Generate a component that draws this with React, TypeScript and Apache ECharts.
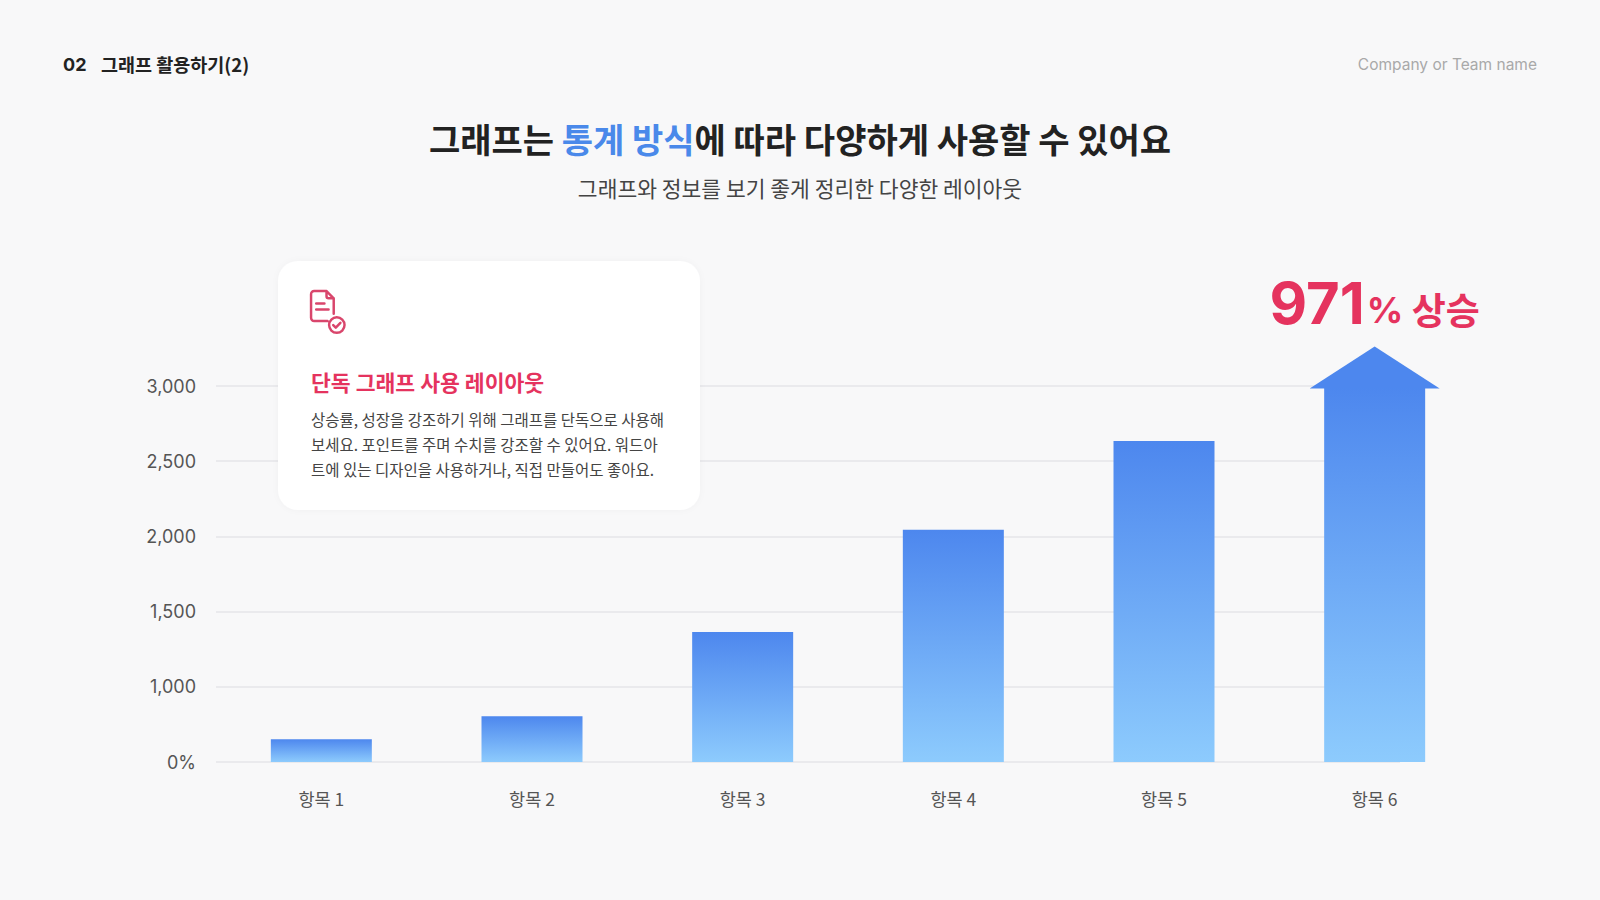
import { useEffect, useRef } from "react";
import * as echarts from "echarts";

// 데이터
const categories = ["항목 1", "항목 2", "항목 3", "항목 4", "항목 5", "항목 6"];
const values = [652, 805, 1365, 2045, 2635, 2990];
const yTickLabels = ["0%", "1,000", "1,500", "2,000", "2,500", "3,000"];
const yMin = 500;
const yMax = 3000;
const yStep = 500;
const highlightIndex = 5;
const growthRate = "971";

const FONT = "Inter, 'Noto Sans CJK KR', sans-serif";
const KR = "'Noto Sans CJK KR', Inter, sans-serif";
const PINK = "#e5335e";
const BLUE_TOP = "#4d87ee";
const BLUE_BOTTOM = "#8dcbfd";

// 문서 + 체크 아이콘
const ICON_D =
  "M18 31 H5 A3 3 0 0 1 2 28 V5 A3 3 0 0 1 5 2 H17 L24 9 V24 " +
  "M17 2 V7 A2 2 0 0 0 19 9 H24 " +
  "M7 14 H15 M7 20 H19 " +
  "M34.5 35 A7.5 7.5 0 1 1 19.5 35 A7.5 7.5 0 1 1 34.5 35 " +
  "M23.5 35 L26 37.5 L30.5 32.8";
echarts.graphic.registerShape("docCheck", echarts.graphic.extendPath(ICON_D, {}));

export default function App() {
  const ref = useRef<HTMLDivElement>(null);

  useEffect(() => {
    if (!ref.current) return;
    const chart = echarts.init(ref.current, undefined, { renderer: "svg" });

    chart.setOption({
      animation: false,
      backgroundColor: "#f8f8f9",
      textStyle: { fontFamily: FONT },
      grid: [
        { left: 216, top: 386, width: 1264, height: 376 },
        { left: 216, top: 386, width: 1184, height: 376 },
      ],
      xAxis: [
        {
          type: "category",
          data: categories,
          gridIndex: 0,
          axisLine: { show: false },
          axisTick: { show: false },
          axisLabel: { margin: 28, fontSize: 17.5, color: "#555", fontFamily: KR },
        },
        { type: "value", gridIndex: 1, min: 0, max: 1, show: false },
      ],
      yAxis: [
        {
          type: "value",
          gridIndex: 0,
          min: yMin,
          max: yMax,
          interval: yStep,
          axisLine: { show: false },
          axisTick: { show: false },
          splitLine: { show: false },
          axisLabel: {
            margin: 20,
            fontSize: 18,
            color: "#555",
            formatter: (v: number) => yTickLabels[Math.round((v - yMin) / yStep)] ?? "",
          },
        },
        {
          type: "value",
          gridIndex: 1,
          min: yMin,
          max: yMax,
          interval: yStep,
          axisLine: { show: false },
          axisTick: { show: false },
          axisLabel: { show: false },
          splitLine: { lineStyle: { color: "#e6e6e8", width: 1.5 } },
        },
      ],
      series: [
        {
          type: "bar",
          data: values,
          barWidth: 101,
          clip: true,
          itemStyle: {
            color: new echarts.graphic.LinearGradient(0, 0, 0, 1, [
              { offset: 0, color: BLUE_TOP },
              { offset: 1, color: BLUE_BOTTOM },
            ]),
          },
        },
        {
          // 마지막 막대 위 화살촉 + 상승률
          type: "custom",
          clip: false,
          z: 3,
          data: [[highlightIndex, values[highlightIndex]]],
          renderItem: (_p: any, api: any) => {
            const pt = api.coord([api.value(0), api.value(1)]);
            return {
              type: "group",
              children: [
                {
                  type: "polygon",
                  shape: {
                    points: [
                      [pt[0] - 65, pt[1] + 1],
                      [pt[0] + 65, pt[1] + 1],
                      [pt[0], pt[1] - 41],
                    ],
                  },
                  style: { fill: BLUE_TOP },
                },
                {
                  type: "text",
                  x: pt[0],
                  y: pt[1] - 56,
                  style: {
                    text: `{n|${growthRate}}{p|%}{s| 상승}`,
                    align: "center",
                    verticalAlign: "bottom",
                    rich: {
                      n: { fontFamily: FONT, fontSize: 58, fontWeight: "bold", fill: PINK, verticalAlign: "bottom", lineHeight: 60 },
                      p: { fontFamily: FONT, fontSize: 36, fontWeight: "bold", fill: PINK, verticalAlign: "bottom", lineHeight: 60, padding: [0, 0, 4, 2] },
                      s: { fontFamily: KR, fontSize: 37, fontWeight: "bold", fill: PINK, verticalAlign: "bottom", lineHeight: 60, padding: [0, 0, 4, 0] },
                    },
                  },
                },
              ],
            };
          },
        },
      ],
      graphic: {
        elements: [
          {
            type: "text",
            x: 63,
            y: 64,
            style: { text: "02", fontFamily: FONT, fontSize: 18, fontWeight: "bold", fill: "#222", verticalAlign: "middle" },
          },
          {
            type: "text",
            x: 101,
            y: 64,
            style: { text: "그래프 활용하기(2)", fontFamily: KR, fontSize: 18.5, fontWeight: "bold", fill: "#222", verticalAlign: "middle" },
          },
          {
            type: "text",
            x: 1537,
            y: 64,
            style: { text: "Company or Team name", fontFamily: FONT, fontSize: 15.5, fill: "#a9a9a9", align: "right", verticalAlign: "middle" },
          },
          {
            type: "text",
            x: 800,
            y: 138,
            style: {
              text: "{a|그래프는 }{b|통계 방식}{a|에 따라 다양하게 사용할 수 있어요}",
              align: "center",
              verticalAlign: "middle",
              rich: {
                a: { fontFamily: KR, fontSize: 34, fontWeight: "bold", fill: "#222" },
                b: { fontFamily: KR, fontSize: 34, fontWeight: "bold", fill: "#4a89ea" },
              },
            },
          },
          {
            type: "text",
            x: 800,
            y: 187,
            style: { text: "그래프와 정보를 보기 좋게 정리한 다양한 레이아웃", fontFamily: KR, fontSize: 21.5, fill: "#444", align: "center", verticalAlign: "middle" },
          },
          {
            type: "rect",
            shape: { x: 278, y: 261, width: 422, height: 249, r: 20 },
            style: { fill: "#ffffff", shadowBlur: 6, shadowColor: "rgba(0,0,0,0.03)" },
            z: 10,
          },
          {
            type: "docCheck",
            x: 309,
            y: 289,
            scaleX: 1.03,
            scaleY: 1.03,
            z: 11,
            style: { fill: "none", stroke: "#d9466c", lineWidth: 2.4, lineCap: "round", lineJoin: "round" },
          },
          {
            type: "text",
            x: 311,
            y: 381,
            z: 11,
            style: { text: "단독 그래프 사용 레이아웃", fontFamily: KR, fontSize: 21.6, fontWeight: "bold", fill: PINK, verticalAlign: "middle" },
          },
          {
            type: "text",
            x: 311,
            y: 406,
            z: 11,
            style: {
              text:
                "상승률, 성장을 강조하기 위해 그래프를 단독으로 사용해\n보세요. 포인트를 주며 수치를 강조할 수 있어요. 워드아\n트에 있는 디자인을 사용하거나, 직접 만들어도 좋아요.",
              fontFamily: KR,
              fontSize: 15.5,
              lineHeight: 25,
              fill: "#444",
              verticalAlign: "top",
            },
          },
        ],
      },
    });

    return () => chart.dispose();
  }, []);

  return <div ref={ref} style={{ position: "fixed", left: 0, top: 0, width: 1600, height: 900 }} />;
}
